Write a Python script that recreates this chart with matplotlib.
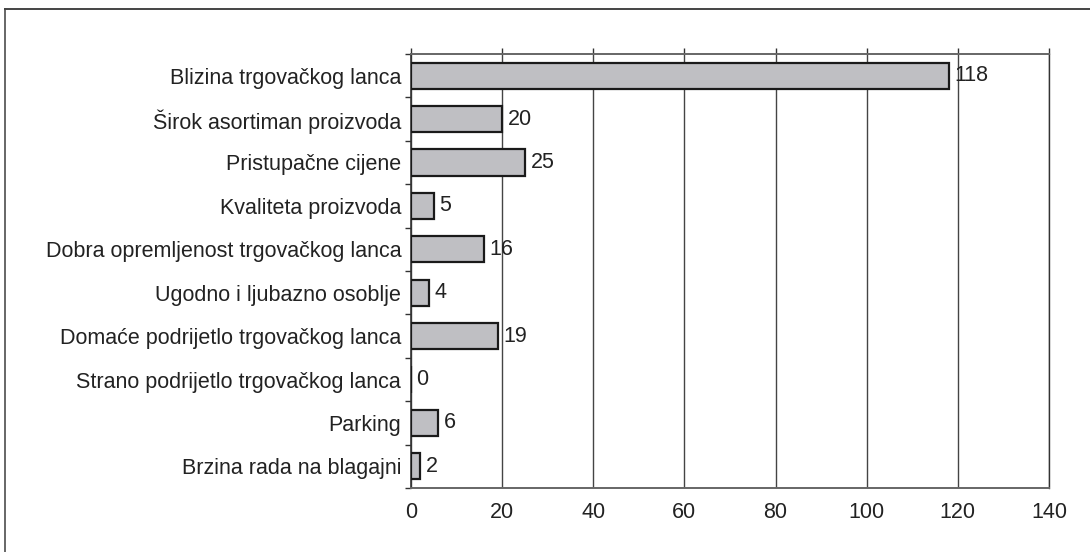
import matplotlib
matplotlib.use("Agg")
import matplotlib.pyplot as plt
import numpy as np
from matplotlib.lines import Line2D

plt.rcParams["font.family"] = ["Liberation Sans", "DejaVu Sans"]

categories = [
    "Blizina trgovačkog lanca",
    "Širok asortiman proizvoda",
    "Pristupačne cijene",
    "Kvaliteta proizvoda",
    "Dobra opremljenost trgovačkog lanca",
    "Ugodno i ljubazno osoblje",
    "Domaće podrijetlo trgovačkog lanca",
    "Strano podrijetlo trgovačkog lanca",
    "Parking",
    "Brzina rada na blagajni",
]
counts = [118, 20, 25, 5, 16, 4, 19, 0, 6, 2]
xticks = [0, 20, 40, 60, 80, 100, 120, 140]

FS = 15.5
TXT = "#222222"

fig = plt.figure(figsize=(10.9, 5.52), dpi=100)
ax = fig.add_axes([0.377, 0.1159, 0.5854, 0.7863])

y = np.arange(len(categories))
ax.barh(y, counts, height=0.6, color="#bfbfc3", edgecolor="#1a1a1a",
        linewidth=1.6, zorder=3)
for yi, v in zip(y, counts):
    ax.annotate(str(v), (v, yi), xytext=(4, 0), textcoords="offset points",
                va="center", ha="left", fontsize=FS, color=TXT)

ax.set_xlim(0, 140)
ax.set_ylim(len(categories) - 0.5, -0.5)
ax.set_xticks(xticks)
ax.set_yticks(y)
ax.set_yticklabels(categories, fontsize=FS, color=TXT)
ax.tick_params(axis="y", length=0, pad=7)
ax.tick_params(axis="x", length=0, pad=10, labelsize=FS, labelcolor=TXT)

# short outward ticks: category boundaries on the left, gridlines on top
ax.set_yticks(np.arange(len(categories) + 1) - 0.5, minor=True)
ax.tick_params(axis="y", which="minor", length=4, width=1, color="#333333",
               direction="out", left=True)
sec = ax.secondary_xaxis("top")
sec.set_xticks(xticks)
sec.set_xticklabels([])
sec.tick_params(length=4, width=1, color="#333333", direction="out")
sec.spines["top"].set_visible(False)

ax.grid(axis="x", color="#444444", linewidth=1.0, zorder=1)
ax.set_axisbelow(True)
for side in ["top", "bottom"]:
    ax.spines[side].set_color("#666666")
    ax.spines[side].set_linewidth(1.4)
ax.spines["left"].set_color("#333333")
ax.spines["left"].set_linewidth(1.2)
ax.spines["right"].set_color("#333333")
ax.spines["right"].set_linewidth(1.0)

# frame lines along the top and left edges of the figure
fig.add_artist(Line2D([5 / 1090, 5 / 1090], [0, 1 - 9 / 552], color="#666666",
                      linewidth=1.4, transform=fig.transFigure))
fig.add_artist(Line2D([5 / 1090, 1], [1 - 9 / 552, 1 - 9 / 552], color="#444444",
                      linewidth=1.4, transform=fig.transFigure))

fig.savefig("out.png", dpi=100)
